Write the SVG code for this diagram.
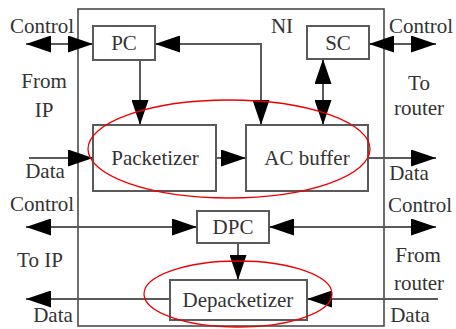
<svg xmlns="http://www.w3.org/2000/svg" width="456" height="329" viewBox="0 0 456 329">
<style>
.bx{fill:#fff;stroke:#5a5a5a;stroke-width:2}
.ln{fill:none;stroke:#5a5a5a;stroke-width:2}
.t{font-size:21px;fill:#333;text-anchor:middle}
.el{fill:none;stroke:#e00;stroke-width:1.3}
</style>
<defs>
<marker id="ah" viewBox="0 0 25 17" refX="25" refY="8.5" markerWidth="25" markerHeight="17" markerUnits="userSpaceOnUse" orient="auto-start-reverse">
<path d="M0,0 L25,8.5 L0,17 z" fill="#000"/>
</marker>
</defs>
<rect id="NI" x="78" y="9" width="306" height="317" fill="none" stroke="#4a4a4a" stroke-width="1.6"/>
<g font-family="Liberation Serif, DejaVu Serif, serif">
<text class="t" x="282" y="33">NI</text>
<g id="PC"><rect class="bx" x="93" y="26" width="62" height="34"/><text class="t" x="124" y="50">PC</text></g>
<g id="SC"><rect class="bx" x="307" y="26" width="62" height="33"/><text class="t" x="338" y="50">SC</text></g>
<g id="Packetizer"><rect class="bx" x="93" y="125" width="123" height="66"/><text class="t" x="155" y="165">Packetizer</text></g>
<g id="ACbuffer"><rect class="bx" x="246" y="125" width="122" height="66"/><text class="t" x="307" y="165">AC buffer</text></g>
<g id="DPC"><rect class="bx" x="197" y="211" width="72" height="32"/><text class="t" x="233" y="234">DPC</text></g>
<g id="Depacketizer"><rect class="bx" x="170" y="280" width="137" height="40"/><text class="t" x="238" y="307">Depacketizer</text></g>
<g id="connectors">
<line class="ln" x1="26" y1="44" x2="93" y2="44" marker-start="url(#ah)" marker-end="url(#ah)"/>
<line class="ln" x1="29" y1="158" x2="93" y2="158" marker-end="url(#ah)"/>
<line class="ln" x1="140" y1="60" x2="140" y2="125" marker-end="url(#ah)"/>
<polyline class="ln" points="155,44 261,44 261,125" marker-start="url(#ah)" marker-end="url(#ah)"/>
<line class="ln" x1="323" y1="59" x2="323" y2="125" marker-start="url(#ah)" marker-end="url(#ah)"/>
<line class="ln" x1="369" y1="44" x2="436" y2="44" marker-start="url(#ah)" marker-end="url(#ah)"/>
<line class="ln" x1="216" y1="158" x2="246" y2="158" marker-end="url(#ah)"/>
<line class="ln" x1="368" y1="158" x2="436" y2="158" marker-end="url(#ah)"/>
<line class="ln" x1="26" y1="227" x2="197" y2="227" marker-start="url(#ah)" marker-end="url(#ah)"/>
<line class="ln" x1="269" y1="227" x2="436" y2="227" marker-start="url(#ah)" marker-end="url(#ah)"/>
<line class="ln" x1="238" y1="243" x2="238" y2="280" marker-end="url(#ah)"/>
<line class="ln" x1="170" y1="299" x2="26" y2="299" marker-end="url(#ah)"/>
<line class="ln" x1="438" y1="299" x2="307" y2="299" marker-end="url(#ah)"/>
</g>
<ellipse class="el" cx="229" cy="149" rx="141" ry="49"/>
<ellipse class="el" cx="238" cy="294" rx="94" ry="33"/>
<g id="labels">
<text class="t" x="42" y="33">Control</text>
<text class="t" x="44" y="88">From</text>
<text class="t" x="44" y="117">IP</text>
<text class="t" x="45" y="178">Data</text>
<text class="t" x="42" y="211">Control</text>
<text class="t" x="40" y="267">To IP</text>
<text class="t" x="53" y="322">Data</text>
<text class="t" x="421" y="33">Control</text>
<text class="t" x="419" y="90">To</text>
<text class="t" x="419" y="115">router</text>
<text class="t" x="409" y="180">Data</text>
<text class="t" x="420" y="212">Control</text>
<text class="t" x="418" y="262">From</text>
<text class="t" x="419" y="290">router</text>
<text class="t" x="410" y="322">Data</text>
</g>
</g>
</svg>
